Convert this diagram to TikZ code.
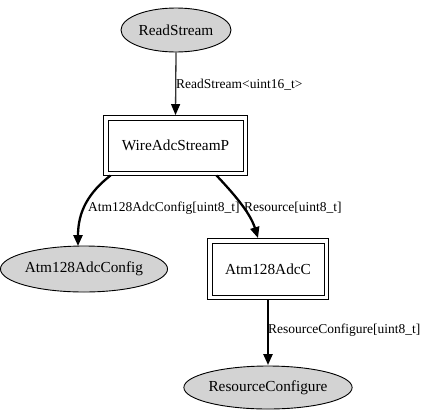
\documentclass[tikz,border=0pt]{standalone}
\usepackage{fontspec}
\setmainfont{Liberation Serif}
\usetikzlibrary{arrows.meta,shapes.geometric}
\definecolor{ellfill}{RGB}{211,211,211}
\begin{document}
\begin{tikzpicture}[x=1pt,y=-1pt,
  ifc/.style={ellipse,draw=black,fill=ellfill,line width=0.9pt,inner sep=0pt,font=\fontsize{15.3}{17}\selectfont},
  comp/.style={rectangle,draw=black,line width=0.9pt,inner sep=0pt,font=\fontsize{15.3}{17}\selectfont},
  lbl/.style={anchor=west,inner sep=0pt,font=\fontsize{13.5}{15}\selectfont},
  heavy/.style={-{Triangle[length=11pt,width=9pt]},line width=2.3pt},
  light/.style={-{Triangle[length=11pt,width=9pt,fill=black,color=black]},line width=1.3pt,draw=black!80}
]
\useasboundingbox (0,0) rectangle (425,416);
\node[ifc,minimum width=110pt,minimum height=44pt] (rs) at (176,30) {ReadStream};
\node[comp,minimum width=135pt,minimum height=51pt] (w) at (175.5,145.5) {WireAdcStreamP};
\draw[line width=0.9pt] ([shift={(-4pt,4pt)}]w.north west) rectangle ([shift={(4pt,-4pt)}]w.south east);
\node[ifc,minimum width=156pt,minimum height=46pt] (cfg) at (84,269) {Atm128AdcConfig};
\node[comp,minimum width=112pt,minimum height=52pt] (adc) at (268,269) {Atm128AdcC};
\draw[line width=0.9pt] ([shift={(-4pt,4pt)}]adc.north west) rectangle ([shift={(4pt,-4pt)}]adc.south east);
\node[ifc,minimum width=158pt,minimum height=43pt] (rc) at (268,387.5) {ResourceConfigure};

\draw[light] (rs.south) -- ([yshift=4.5pt]w.north);
\node[lbl] (l1) at (176,85) {ReadStream<uint16\_t>};

\draw[heavy] ([xshift=3pt,yshift=-4pt]w.south west) .. controls (88,193) and (78,212) .. ([xshift=-6pt,yshift=-0.5pt]cfg.north);
\node[lbl] (l2) at (88,208) {Atm128AdcConfig[uint8\_t]};

\draw[heavy] ([xshift=41pt,yshift=-4pt]w.south) .. controls (232,192) and (250,212) .. ([xshift=-10pt,yshift=4.5pt]adc.north);
\node[lbl] (l3) at (244,208) {Resource[uint8\_t]};

\draw[heavy] ([yshift=-4pt]adc.south) -- ([yshift=0.5pt]rc.north);
\node[lbl] (l4) at (268,330) {ResourceConfigure[uint8\_t]};
\end{tikzpicture}
\end{document}
